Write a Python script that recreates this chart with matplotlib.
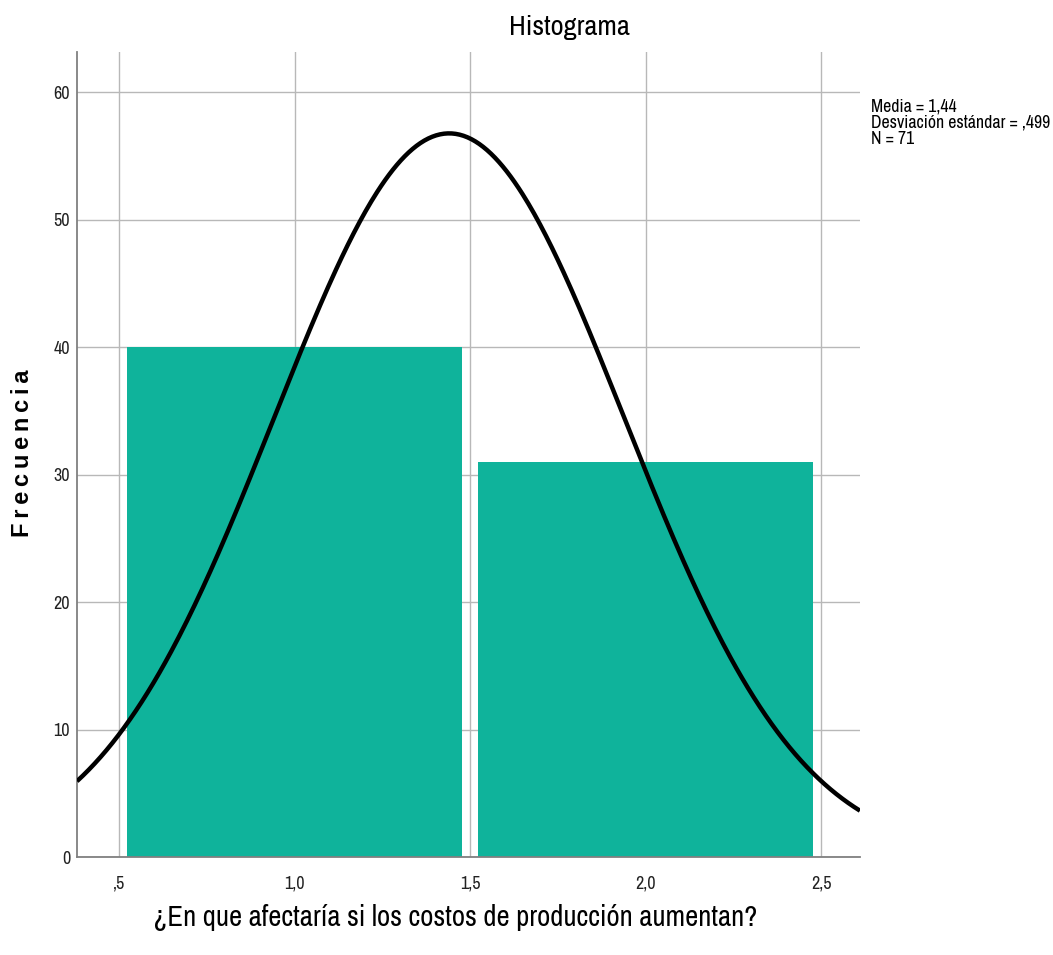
import numpy as np
import matplotlib
matplotlib.use("Agg")
import matplotlib.pyplot as plt
from matplotlib import font_manager

# Histogram data
bin_centers = [1.0, 2.0]
counts = [40, 31]
mean_val = 1.44
std_val = 0.499
n_obs = 71
bin_width = 1.0

x_ticks = [0.5, 1.0, 1.5, 2.0, 2.5]
x_tick_labels = [",5", "1,0", "1,5", "2,0", "2,5"]
y_ticks = [0, 10, 20, 30, 40, 50, 60]

# Prefer a condensed sans face for the labels when one is installed
narrow_name, narrow_stretch = None, "normal"
for f in font_manager.fontManager.ttflist:
    if "Narrow" in f.name or "Condensed" in f.name:
        narrow_name, narrow_stretch = f.name, "normal"
        break
if narrow_name is None:
    for f in font_manager.fontManager.ttflist:
        if str(f.stretch) in ("condensed", "semi-condensed", "extra-condensed") or \
                (isinstance(f.stretch, int) and f.stretch < 500):
            narrow_name, narrow_stretch = f.name, f.stretch
            break

if narrow_name:
    base = [narrow_name, "Liberation Sans", "DejaVu Sans"]
    plt.rcParams["font.family"] = base
    plt.rcParams["font.stretch"] = narrow_stretch
    title_kw = dict(fontsize=20.5)
    xlab_kw = dict(fontsize=20.7, fontweight="bold")
    tick_size = 13
    stats_size = 12.8
else:
    base = ["Liberation Sans", "DejaVu Sans"]
    plt.rcParams["font.family"] = base
    title_kw = dict(fontsize=16, fontweight="bold")
    xlab_kw = dict(fontsize=15.5, fontweight="bold")
    tick_size = 12.5
    stats_size = 11

fig = plt.figure(figsize=(10.53, 9.55), dpi=100)
ax = fig.add_axes([0.0731, 0.1026, 0.7436, 0.843])

xmin, xmax = 0.38, 2.61
ax.set_xlim(xmin, xmax)
ax.set_ylim(0, 63.15)

ax.set_axisbelow(True)
ax.grid(True, color="#b8b8b8", linewidth=1.0)

ax.bar(bin_centers, counts, width=0.955, color="#0fb39b", edgecolor="none", zorder=2)

xs = np.linspace(xmin, xmax, 400)
pdf = n_obs * bin_width / (std_val * np.sqrt(2 * np.pi)) * np.exp(-0.5 * ((xs - mean_val) / std_val) ** 2)
ax.plot(xs, pdf, color="black", linewidth=3.2, zorder=3, solid_capstyle="butt")

ax.set_xticks(x_ticks)
ax.set_xticklabels(x_tick_labels)
ax.set_yticks(y_ticks)
ax.tick_params(axis="both", length=0, labelsize=tick_size, colors="#222222")
ax.tick_params(axis="x", pad=13)
ax.tick_params(axis="y", pad=5)

for side in ["top", "right"]:
    ax.spines[side].set_visible(False)
for side in ["left", "bottom"]:
    ax.spines[side].set_color("#808080")
    ax.spines[side].set_linewidth(1.3)

fig.text(569 / 1053, 1 - 28 / 955, "Histograma", ha="center", va="center", **title_kw)
fig.text(455 / 1053, 1 - 917 / 955, "¿En que afectaría si los costos de producción aumentan?",
         ha="center", va="center", **xlab_kw)
fig.text(23 / 1053, 1 - 453 / 955, "\u2009".join("Frecuencia"), rotation=90,
         ha="center", va="center", fontsize=17, fontweight="bold",
         family=["Liberation Sans", "DejaVu Sans"], stretch="normal")
fig.text(871 / 1053, 1 - 99 / 955,
         f"Media = 1,44\nDesviación estándar = ,499\nN = {n_obs}",
         ha="left", va="top", fontsize=stats_size, linespacing=1.0)

fig.savefig("out.png", dpi=100)
